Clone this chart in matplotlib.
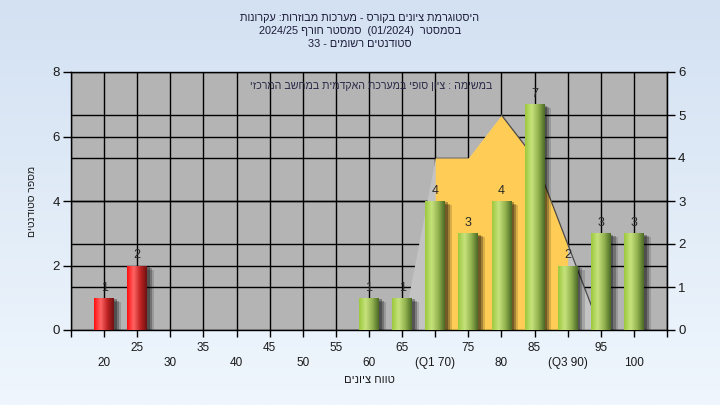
import re
import numpy as np
import matplotlib
matplotlib.use("Agg")
from matplotlib import pyplot as plt
from matplotlib import patheffects
from matplotlib.colors import LinearSegmentedColormap

plt.rcParams["font.family"] = ["Liberation Sans", "DejaVu Sans"]

# data
grades = [20, 25, 30, 35, 40, 45, 50, 55, 60, 65, 70, 75, 80, 85, 90, 95, 100]
counts = [1, 2, 0, 0, 0, 0, 0, 0, 1, 1, 4, 3, 4, 7, 2, 3, 3]
grade_labels = ["20", "25", "30", "35", "40", "45", "50", "55", "60", "65",
                "(Q1 70)", "75", "80", "85", "(Q3 90)", "95", "100"]
fail_below = 55

# distribution area (right axis units)
dist_grades = [65, 70, 75, 80, 85, 90, 95]
dist_values = [0, 4, 4, 5, 4, 2, 0]
q1, q3 = 70, 90

title_lines = [
    "היסטוגרמת ציונים בקורס - מערכות מבוזרות: עקרונות",
    "בסמסטר  (01/2024)  סמסטר חורף 2024/25",
    "סטודנטים רשומים - 33",
]
note_text = "במשימה : ציון סופי במערכת האקדמית במחשב המרכזי"
ylabel_text = "מספר סטודנטים"
xlabel_text = "טווח ציונים"

LEFT_MAX = 8
RIGHT_MAX = 6

MIRROR = str.maketrans("()", ")(")


def rtl(text):
    # crude visual reordering for hebrew, matplotlib has no bidi support
    runs = re.findall(r"[0-9A-Za-z/.]+|[^0-9A-Za-z/.]+", text)
    out = []
    for run in reversed(runs):
        if re.fullmatch(r"[0-9A-Za-z/.]+", run):
            out.append(run)
        else:
            out.append(run[::-1].translate(MIRROR))
    return "".join(out)


def to_left(v):
    return np.asarray(v, dtype=float) * LEFT_MAX / RIGHT_MAX


def to_right(v):
    return np.asarray(v, dtype=float) * RIGHT_MAX / LEFT_MAX


fig = plt.figure(figsize=(7.2, 4.05), dpi=100)

# background gradient
bg = fig.add_axes([0, 0, 1, 1], zorder=-10)
bg_cmap = LinearSegmentedColormap.from_list("bg", ["#d3e1f2", "#eff6fd"])
bg.imshow(np.linspace(0, 1, 256)[:, None], cmap=bg_cmap, aspect="auto", extent=[0, 1, 0, 1])
bg.axis("off")

ax = fig.add_axes([71 / 720, 75 / 405, 596 / 720, 258 / 405])
ax.set_facecolor("#b4b4b4")

x = np.arange(len(grades))
pos = {g: i for i, g in enumerate(grades)}

# grid
ax.set_axisbelow(True)
ax.grid(True, color="black", linewidth=1)
for v in range(1, RIGHT_MAX):
    ax.axhline(to_left(v), color="black", linewidth=1, zorder=0.6)

# distribution area
dx = np.array([pos[g] for g in dist_grades])
dy = to_left(dist_values)
ax.fill_between(dx, 0, dy, color="#c3c3c3", linewidth=0, zorder=2)
inside = (np.array(dist_grades) >= q1) & (np.array(dist_grades) <= q3)
ax.fill_between(dx, 0, dy, where=inside, color="#ffcc55", linewidth=0, zorder=2.1)
down = np.array(dist_grades) >= 80
ax.plot(dx[down], dy[down], color="#4a4a4a", linewidth=0.9, zorder=2.2)

# bars
green = LinearSegmentedColormap.from_list("g", ["#9cc83e", "#c6e27c", "#94b450", "#4c6a26"])
red = LinearSegmentedColormap.from_list("r", ["#ff1010", "#ff6464", "#c02424", "#701010"])
grad = np.linspace(0, 1, 64)[None, :]
shadow = [patheffects.SimplePatchShadow(offset=(5, -3), shadow_rgbFace="black", alpha=0.15),
          patheffects.SimplePatchShadow(offset=(3.5, -2), shadow_rgbFace="black", alpha=0.25),
          patheffects.SimplePatchShadow(offset=(2, -1), shadow_rgbFace="black", alpha=0.3),
          patheffects.Normal()]
bars = ax.bar(x, counts, width=0.6, color="#90b050", linewidth=0, zorder=2.9)
for g, c, b in zip(grades, counts, bars):
    if c == 0:
        continue
    b.set_path_effects(shadow)
    cmap = red if g < fail_below else green
    im = ax.imshow(grad, cmap=cmap, aspect="auto", zorder=3,
                   extent=(b.get_x(), b.get_x() + b.get_width(), 0, c))
    im.set_clip_path(b)
    ax.annotate(str(c), (b.get_x() + b.get_width() / 2, c), xytext=(0, 3),
                textcoords="offset points", ha="center", va="bottom",
                fontsize=9, color="#2a2a2a", zorder=4)

ax.set_xlim(-1, len(grades))
ax.set_ylim(0, LEFT_MAX)

# x ticks, labels staggered on two rows
ticks = list(range(-1, len(grades) + 1))
labels = [""]
for i, lab in enumerate(grade_labels):
    labels.append(lab if i % 2 else "\n" + lab)
labels.append("")
ax.set_xticks(ticks)
ax.set_xticklabels(labels, fontsize=8.5, color="#1a1a1a", linespacing=1.35)
ax.tick_params(axis="x", length=5, width=1, pad=3.5)

ax.set_yticks(range(0, LEFT_MAX + 1, 2))
ax.tick_params(axis="y", length=6, width=1, labelsize=9.5, labelcolor="#1a1a1a", pad=2)

sec = ax.secondary_yaxis("right", functions=(to_right, to_left))
sec.set_yticks(range(0, RIGHT_MAX + 1))
sec.tick_params(length=6, width=1, labelsize=9.5, labelcolor="#1a1a1a", pad=2)

for sp in ax.spines.values():
    sp.set_color("black")
    sp.set_linewidth(1)

ax.set_xlabel(rtl(xlabel_text), fontsize=8, color="#1a1a1a")
ax.xaxis.set_label_coords(0.5, -0.175)
ax.set_ylabel(rtl(ylabel_text), fontsize=7.5, color="#1a1a1a")
ax.yaxis.set_label_coords(-0.057, 0.5)

ax.text(0.503, 0.946, rtl(note_text), transform=ax.transAxes, ha="center", va="center",
        fontsize=7.7, color="#2a2a48", zorder=5)

for i, line in enumerate(title_lines):
    fig.text(0.5, 1 - (18 + 13 * i) / 405, rtl(line), ha="center", va="center",
             fontsize=7.8, color="#1c1c3a")

fig.savefig("out.png", dpi=100)
